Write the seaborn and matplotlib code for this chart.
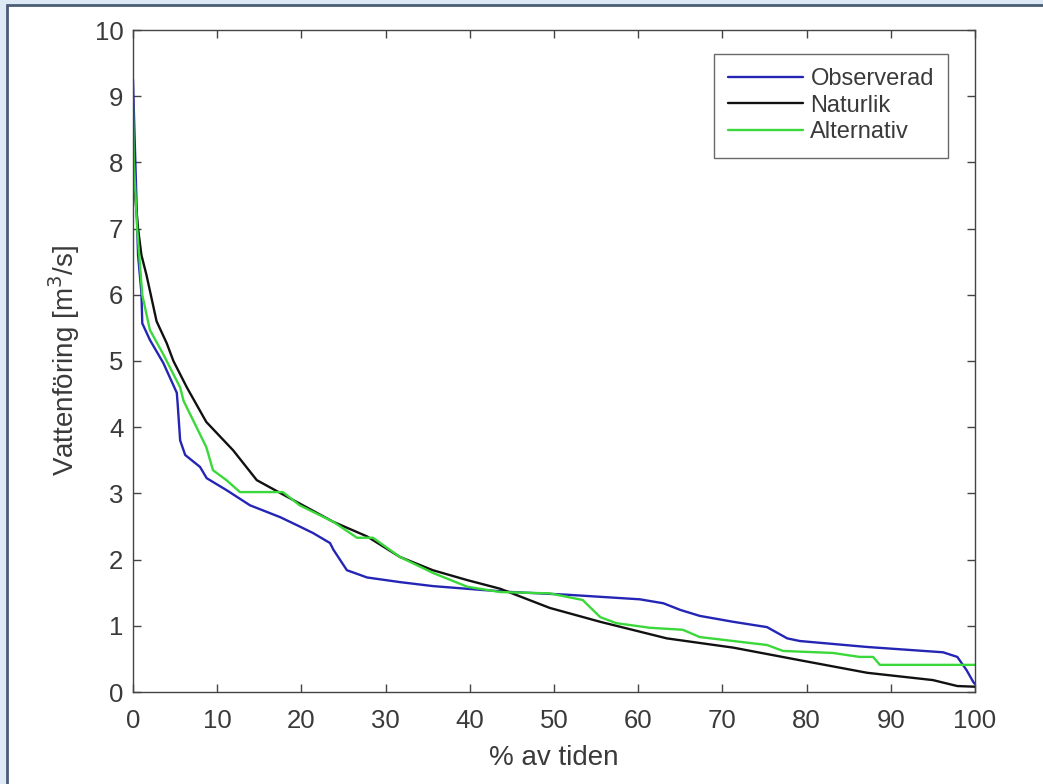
import matplotlib
matplotlib.use("Agg")
from matplotlib import pyplot as plt
from matplotlib.patches import Rectangle
import seaborn as sns
import pandas as pd

# Varaktighetskurvor
obs_x = [0, 0.05, 0.6, 1.0, 1.1, 2.0, 3.6, 5.2, 5.3, 5.6, 6.2, 7.96, 8.75, 11.1, 13.9,
         17.5, 19.8, 21.4, 23.4, 23.8, 25.4, 27.8, 31.7, 35.6, 41.6, 45.0, 51.5, 60.2,
         63.0, 65.0, 67.3, 71.3, 75.3, 77.7, 79.2, 87.2, 96.2, 97.9, 99.0, 99.8, 100]
obs_y = [9.25, 9.0, 6.6, 6.03, 5.57, 5.32, 4.97, 4.52, 4.36, 3.8, 3.58, 3.40, 3.23, 3.05, 2.82,
         2.64, 2.5, 2.4, 2.25, 2.15, 1.84, 1.73, 1.66, 1.6, 1.54, 1.51, 1.47, 1.40,
         1.34, 1.24, 1.15, 1.06, 0.98, 0.81, 0.77, 0.68, 0.60, 0.53, 0.33, 0.15, 0.12]

nat_x = [0, 0.25, 0.6, 1.0, 1.6, 2.8, 4.0, 4.8, 6.4, 8.7, 11.9, 14.7, 18.3, 23.8, 27.8,
         31.7, 35.6, 39.7, 43.6, 49.5, 55.5, 63.4, 71.3, 79.2, 87.2, 95.0, 97.9, 100]
nat_y = [7.8, 7.5, 7.0, 6.6, 6.3, 5.6, 5.27, 5.0, 4.6, 4.08, 3.65, 3.2, 2.95, 2.57, 2.35,
         2.04, 1.84, 1.69, 1.56, 1.27, 1.06, 0.81, 0.67, 0.48, 0.29, 0.18, 0.09, 0.08]

alt_x = [0, 0.1, 0.5, 1.1, 2.0, 3.6, 5.6, 6.0, 8.7, 9.5, 11.1, 12.7, 17.8, 19.8, 23.8,
         26.6, 28.5, 31.7, 35.6, 39.7, 43.6, 49.5, 53.4, 55.5, 57.4, 61.4, 65.3, 67.3,
         75.3, 77.2, 83.1, 86.3, 87.9, 88.7, 100]
alt_y = [8.85, 8.0, 7.0, 6.0, 5.47, 5.1, 4.6, 4.4, 3.7, 3.35, 3.2, 3.02, 3.02, 2.82, 2.57,
         2.33, 2.33, 2.04, 1.80, 1.59, 1.51, 1.49, 1.39, 1.13, 1.04, 0.97, 0.94, 0.83,
         0.71, 0.62, 0.59, 0.53, 0.53, 0.41, 0.41]

serier = ["Observerad", "Naturlik", "Alternativ"]
farger = {"Observerad": "#2525b5", "Naturlik": "#111111", "Alternativ": "#3ad83a"}

df = pd.concat([
    pd.DataFrame({"x": obs_x, "y": obs_y, "serie": "Observerad"}),
    pd.DataFrame({"x": nat_x, "y": nat_y, "serie": "Naturlik"}),
    pd.DataFrame({"x": alt_x, "y": alt_y, "serie": "Alternativ"}),
], ignore_index=True)

sns.set_theme(style="white")
plt.rcParams["font.family"] = ["Liberation Sans", "DejaVu Sans"]
textfarg = "#3a3a3a"

fig = plt.figure(figsize=(10.43, 7.84), dpi=100)
fig.patch.set_facecolor("#dde9f5")
fig.patches.append(Rectangle((7 / 1043, -0.01), 1.1, (784 - 5) / 784 + 0.01,
                             transform=fig.transFigure, facecolor="white",
                             edgecolor="#4b5d75", linewidth=2, zorder=-10))

ax = fig.add_axes([133 / 1043, 92 / 784, 842 / 1043, 662 / 784])
sns.lineplot(data=df, x="x", y="y", hue="serie", hue_order=serier, palette=farger,
             sort=False, estimator=None, linewidth=1.7, ax=ax)

ax.set_xlim(0, 100)
ax.set_ylim(0, 10)
ax.set_xticks(range(0, 101, 10))
ax.set_yticks(range(0, 11))
ax.tick_params(direction="in", length=6, width=1, colors="#444444", labelcolor=textfarg,
               labelsize=18.5, top=True, right=True, bottom=True, left=True)
ax.tick_params(axis="x", pad=12)
ax.tick_params(axis="y", pad=7)
for s in ax.spines.values():
    s.set_color("#444444")
    s.set_linewidth(1)
ax.set_xlabel("% av tiden", fontsize=20, color=textfarg, labelpad=9)
ax.set_ylabel("Vattenföring [m$^3$/s]", fontsize=20, color=textfarg, labelpad=9)

leg = ax.legend(loc="upper right", bbox_to_anchor=(0.968, 0.964), fontsize=17,
                frameon=True, fancybox=False, handlelength=3.2, handletextpad=0.3,
                borderpad=0.6, labelspacing=0.2, borderaxespad=0)
leg.get_frame().set_edgecolor("#444444")
leg.get_frame().set_linewidth(1)
for t in leg.get_texts():
    t.set_color(textfarg)

fig.savefig("out.png", dpi=100, facecolor=fig.get_facecolor())
